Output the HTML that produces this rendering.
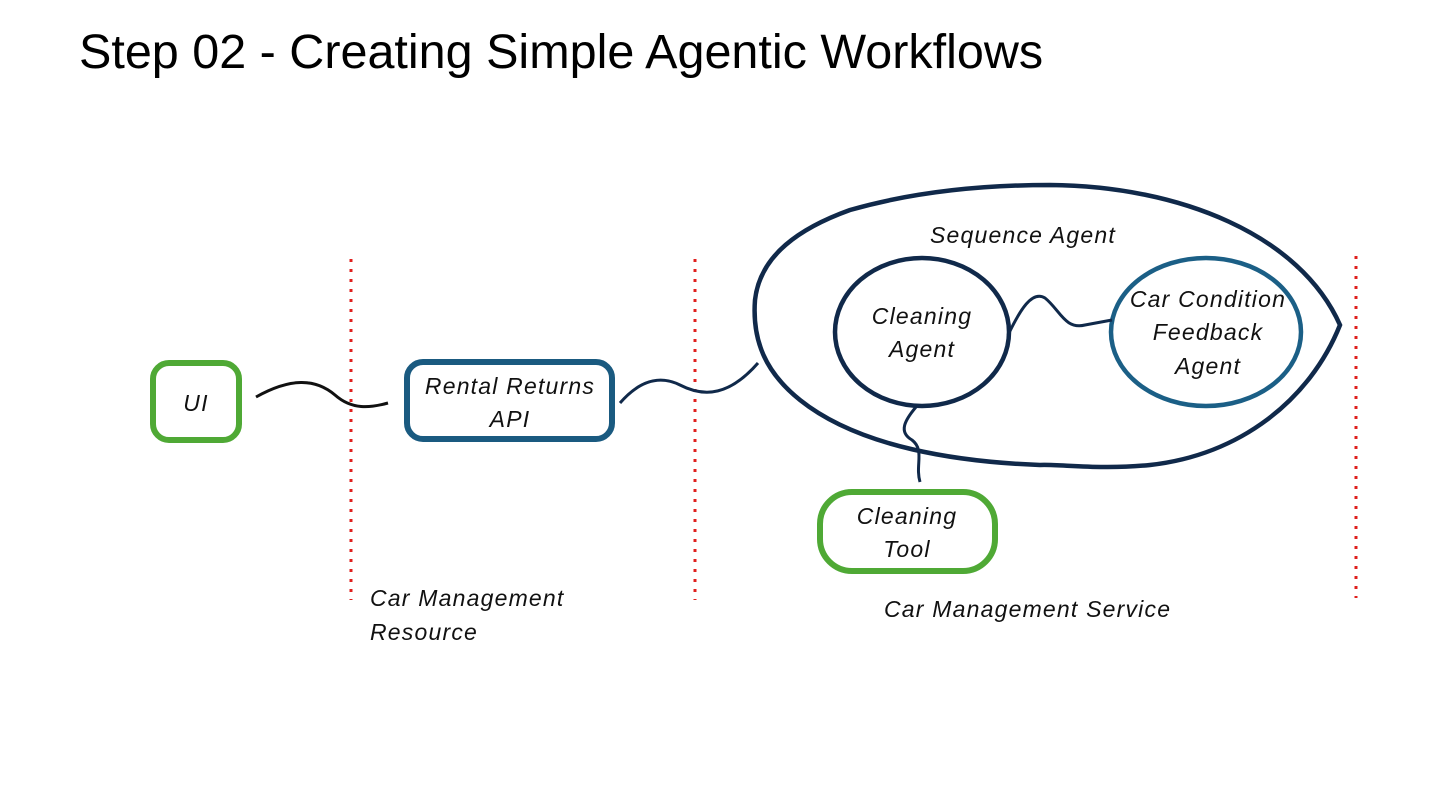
<!DOCTYPE html>
<html><head><meta charset="utf-8"><style>
html,body{margin:0;padding:0;background:#fff;}
svg{display:block;}
.t{font-family:"Liberation Sans",sans-serif;font-style:italic;font-size:23px;fill:#111;letter-spacing:1.2px;}
</style></head><body>
<svg width="1440" height="810" viewBox="0 0 1440 810" xmlns="http://www.w3.org/2000/svg">
<text x="79" y="68" font-family="Liberation Sans, sans-serif" font-size="48.5" fill="#000">Step 02 - Creating Simple Agentic Workflows</text>
<g stroke="#e0201e" stroke-width="3" stroke-dasharray="3,7">
<line x1="351" y1="259" x2="351" y2="600"/>
<line x1="695" y1="259" x2="695" y2="600"/>
<line x1="1356" y1="256" x2="1356" y2="598"/>
</g>
<path d="M1050,185 C1180,186 1300,235 1340,325 C1310,400 1240,455 1150,465 C1100,470 1060,464 1040,465 C960,462 860,448 800,400 C765,372 752,340 755,300 C760,255 800,228 850,210 C920,190 990,185 1050,185 Z" fill="none" stroke="#10294a" stroke-width="4.5"/>
<ellipse cx="922" cy="332" rx="87" ry="74" fill="none" stroke="#10294a" stroke-width="4.5"/>
<ellipse cx="1206" cy="332" rx="95" ry="74" fill="none" stroke="#1b5f86" stroke-width="4.5"/>
<rect x="153" y="363" width="86" height="77" rx="16" fill="none" stroke="#4fa935" stroke-width="6"/>
<rect x="407" y="362" width="205" height="77" rx="16" fill="none" stroke="#1a5a80" stroke-width="6"/>
<rect x="820" y="492" width="175" height="79" rx="32" fill="none" stroke="#4fa935" stroke-width="6"/>
<g fill="none" stroke="#111" stroke-width="3">
<path d="M256,397 C290,378 315,378 335,395 C352,410 370,408 388,403"/>
<path d="M620,403 C640,380 660,375 680,385 C705,398 730,395 758,363" stroke="#10294a"/>
<path d="M1008,335 C1020,310 1032,290 1045,298 C1060,310 1065,330 1085,325 L1112,320" stroke="#10294a"/>
<path d="M916,407 C905,420 898,432 912,440 C925,450 915,465 920,482" stroke="#10294a"/>
</g>
<text class="t" x="1023" y="243" text-anchor="middle">Sequence Agent</text>
<text class="t" x="922" y="324" text-anchor="middle">Cleaning</text>
<text class="t" x="922" y="357" text-anchor="middle">Agent</text>
<text class="t" x="1208" y="307" text-anchor="middle">Car Condition</text>
<text class="t" x="1208" y="340" text-anchor="middle">Feedback</text>
<text class="t" x="1208" y="374" text-anchor="middle">Agent</text>
<text class="t" x="196" y="411" text-anchor="middle">UI</text>
<text class="t" x="510" y="394" text-anchor="middle">Rental Returns</text>
<text class="t" x="510" y="427" text-anchor="middle">API</text>
<text class="t" x="907" y="524" text-anchor="middle">Cleaning</text>
<text class="t" x="907" y="557" text-anchor="middle">Tool</text>
<text class="t" x="370" y="606">Car Management</text>
<text class="t" x="370" y="640">Resource</text>
<text class="t" x="884" y="617">Car Management Service</text>
</svg>
</body></html>
